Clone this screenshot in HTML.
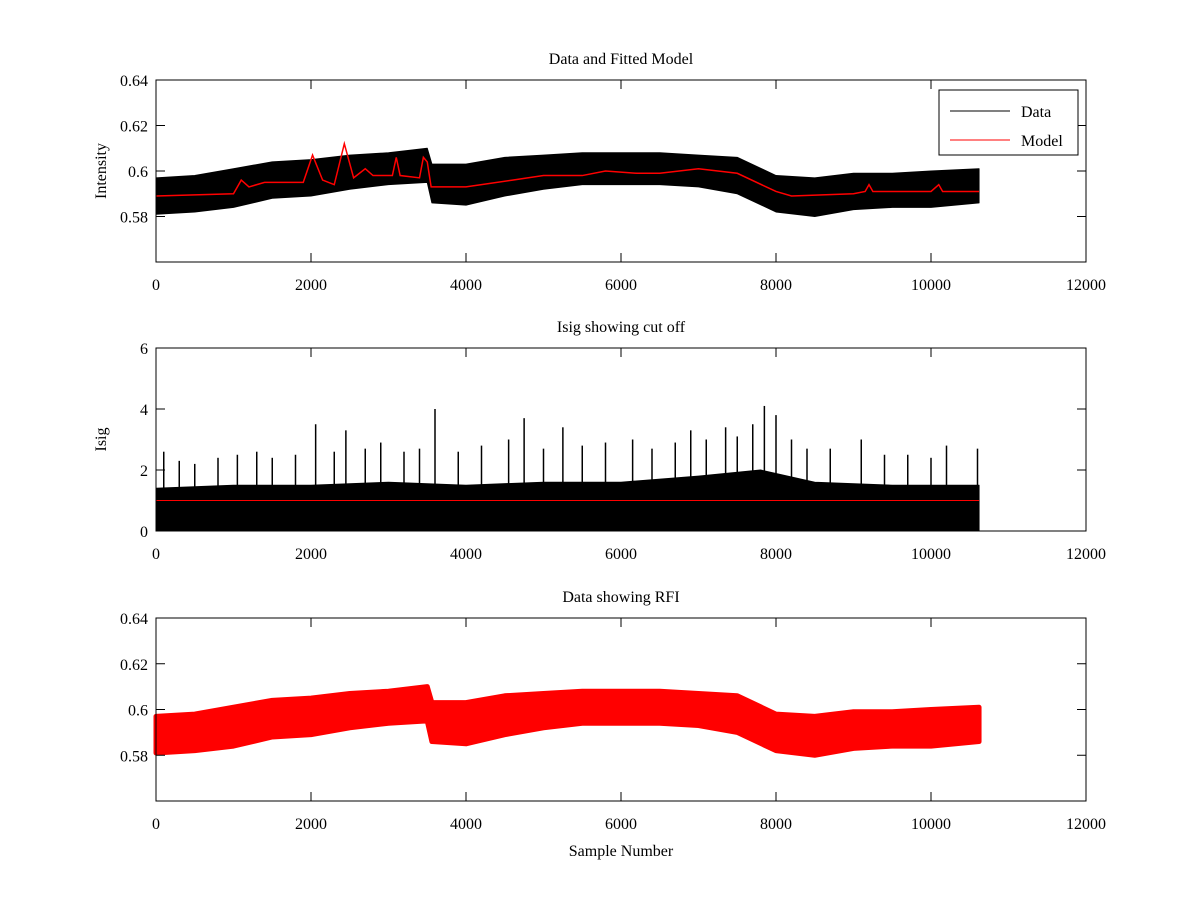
<!DOCTYPE html>
<html><head><meta charset="utf-8"><style>
body{margin:0;background:#fff}
svg text{font-family:"Liberation Serif",serif;font-size:16px;fill:#000}
</style></head><body>
<svg id="c" width="1200" height="900" xmlns="http://www.w3.org/2000/svg"></svg>
<script>
// ---- data ----
const sampleX = [0,500,1000,1500,2000,2500,3000,3500,3560,4000,4500,5000,5500,6000,6500,7000,7500,8000,8500,9000,9500,10000,10620];
const dataHi = [0.597,0.598,0.601,0.604,0.605,0.607,0.608,0.610,0.603,0.603,0.606,0.607,0.608,0.608,0.608,0.607,0.606,0.598,0.597,0.599,0.599,0.600,0.601];
const dataLo = [0.581,0.582,0.584,0.588,0.589,0.592,0.594,0.595,0.586,0.585,0.589,0.592,0.594,0.594,0.594,0.593,0.590,0.582,0.580,0.583,0.584,0.584,0.586];
const modelX = [0,1000,1100,1200,1400,1900,2020,2150,2300,2430,2550,2700,2800,3050,3100,3150,3400,3450,3500,3550,4000,4600,5000,5500,5800,6200,6500,7000,7500,8000,8200,9000,9150,9200,9250,10000,10100,10150,10620];
const modelY = [0.589,0.590,0.596,0.593,0.595,0.595,0.607,0.596,0.594,0.612,0.597,0.601,0.598,0.598,0.606,0.598,0.597,0.606,0.604,0.593,0.593,0.596,0.598,0.598,0.600,0.599,0.599,0.601,0.599,0.591,0.589,0.590,0.591,0.594,0.591,0.591,0.594,0.591,0.591];
const isigX = [0,1000,2000,3000,4000,5000,6000,7000,7800,8500,9500,10620];
const isigHi = [1.4,1.5,1.5,1.6,1.5,1.6,1.6,1.8,2.0,1.6,1.5,1.5];
const peakX = [100,300,500,800,1050,1300,1500,1800,2060,2300,2450,2700,2900,3200,3400,3600,3900,4200,4550,4750,5000,5250,5500,5800,6150,6400,6700,6900,7100,7350,7500,7700,7850,8000,8200,8400,8700,9100,9400,9700,10000,10200,10600];
const peakY = [2.6,2.3,2.2,2.4,2.5,2.6,2.4,2.5,3.5,2.6,3.3,2.7,2.9,2.6,2.7,4.0,2.6,2.8,3.0,3.7,2.7,3.4,2.8,2.9,3.0,2.7,2.9,3.3,3.0,3.4,3.1,3.5,4.1,3.8,3.0,2.7,2.7,3.0,2.5,2.5,2.4,2.8,2.7];
const cutoff = 1.0;
const xTicks = [0,2000,4000,6000,8000,10000,12000];
const yTicksI = [0.58,0.6,0.62,0.64];
const yTicksS = [0,2,4,6];

const svg=document.getElementById('c');
const NS='http://www.w3.org/2000/svg';
function mk(tag,attrs,parent){const e=document.createElementNS(NS,tag);for(const k in attrs)e.setAttribute(k,attrs[k]);(parent||svg).appendChild(e);return e;}
const L=156,R=1086;
const xs=v=>L+(v/12000)*(R-L);
function axes(top,bot,ymin,ymax,yt,title,ylabel,name){
  const ys=v=>bot-(v-ymin)/(ymax-ymin)*(bot-top);
  const g=mk('g',{});
  
  
  return {g,ys,top,bot,yt,title,ylabel,name};
}
function frame(a,xlabel){
  const g=mk('g',{});
  
  
  mk('rect',{x:L,y:a.top,width:R-L,height:a.bot-a.top,fill:'none',stroke:'#000','stroke-width':1},g);
  xTicks.forEach(t=>{const x=xs(t);
    mk('line',{x1:x,y1:a.bot,x2:x,y2:a.bot-9,stroke:'#000'},g);
    mk('line',{x1:x,y1:a.top,x2:x,y2:a.top+9,stroke:'#000'},g);
    const tx=mk('text',{x:x,y:a.bot+28,'text-anchor':'middle'},g);tx.textContent=t;
    
    
  });
  a.yt.forEach(t=>{const y=a.ys(t);
    mk('line',{x1:L,y1:y,x2:L+9,y2:y,stroke:'#000'},g);
    mk('line',{x1:R,y1:y,x2:R-9,y2:y,stroke:'#000'},g);
    const tx=mk('text',{x:L-8,y:y+6,'text-anchor':'end'},g);tx.textContent=String(t);
    
    
  });
  const ti=mk('text',{x:(L+R)/2,y:a.top-16,'text-anchor':'middle'},g);ti.textContent=a.title;
  
  
  if(a.ylabel){const yl=mk('text',{x:0,y:0,'text-anchor':'middle',transform:`translate(106,${(a.top+a.bot)/2}) rotate(-90)`},g);yl.textContent=a.ylabel;
    
    }
  if(xlabel){const xl=mk('text',{x:(L+R)/2,y:a.bot+55,'text-anchor':'middle'},g);xl.textContent=xlabel;
    
    }
}
function band(a,hi,lo,xsArr,col,sw,parent){
  let d='M'+xsArr.map((x,i)=>xs(x)+','+a.ys(hi[i])).join('L');
  for(let i=xsArr.length-1;i>=0;i--)d+='L'+xs(xsArr[i])+','+a.ys(lo[i]);
  return mk('path',{d:d+'Z',fill:col,stroke:col,'stroke-width':sw,'stroke-linejoin':'round'},parent);
}
// Plot 1
const a1=axes(80,262,0.56,0.64,yTicksI,'Data and Fitted Model','Intensity','plot-data-model');
const p1=band(a1,dataHi,dataLo,sampleX,'#000',1,a1.g);


const m1=mk('polyline',{points:modelX.map((x,i)=>xs(x)+','+a1.ys(modelY[i])).join(' '),fill:'none',stroke:'#f00','stroke-width':1.5},a1.g);


frame(a1,null);
// legend
const lg=mk('g',{});


mk('rect',{x:939,y:90,width:139,height:65,fill:'#fff',stroke:'#000'},lg);
mk('line',{x1:950,y1:111,x2:1010,y2:111,stroke:'#000'},lg);
mk('line',{x1:950,y1:140,x2:1010,y2:140,stroke:'#f00'},lg);
const le1=mk('text',{x:1021,y:117},lg);le1.textContent='Data';


const le2=mk('text',{x:1021,y:146},lg);le2.textContent='Model';


// Plot 2
const a2=axes(348,531,0,6,yTicksS,'Isig showing cut off','Isig','plot-isig');
const p2=band(a2,isigHi,isigX.map(()=>0),isigX,'#000',1,a2.g);


peakX.forEach((x,i)=>{const l=mk('line',{x1:xs(x),y1:a2.ys(0),x2:xs(x),y2:a2.ys(peakY[i]),stroke:'#000','stroke-width':1.5},a2.g);
  
  });
const cl=mk('line',{x1:xs(0),y1:a2.ys(cutoff),x2:xs(10620),y2:a2.ys(cutoff),stroke:'#f00','stroke-width':1},a2.g);


frame(a2,null);
// Plot 3
const a3=axes(618,801,0.56,0.64,yTicksI,'Data showing RFI',null,'plot-rfi');
const p3=band(a3,dataHi,dataLo,sampleX,'#f00',5,a3.g);


frame(a3,'Sample Number');
</script>
</body></html>
